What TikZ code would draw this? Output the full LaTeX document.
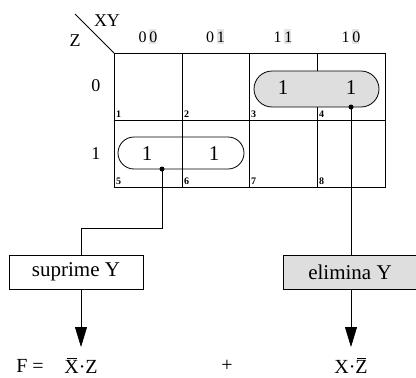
\documentclass[tikz,border=0pt]{standalone}
\usepackage{fontspec}
\setmainfont{Liberation Serif}
\usetikzlibrary{arrows.meta}
\newcommand{\ovbar}[1]{\leavevmode\setbox0\hbox{#1}\rlap{\hspace{0.15\wd0}\rule[1.12\ht0]{0.7\wd0}{0.06em}}#1}
\tikzset{
  grid/.style={line width=0.8pt},
  pill/.style={draw, line width=0.8pt, rounded corners=#1, inner sep=0pt},
  hdr/.style={font=\fontsize{16}{16}\selectfont, inner sep=1pt},
  lbl/.style={font=\fontsize{18}{18}\selectfont, inner sep=1pt},
  one/.style={font=\fontsize{21}{21}\selectfont, inner sep=0pt},
  cellno/.style={font=\bfseries\fontsize{10}{10}\selectfont, inner sep=0pt, anchor=south west},
  opbox/.style={draw, line width=0.8pt, font=\fontsize{21}{21}\selectfont, inner sep=0pt, minimum height=34pt},
  formula/.style={font=\fontsize{20}{20}\selectfont, inner sep=0pt},
  conn/.style={line width=0.8pt},
  arr/.style={line width=0.8pt, -{Triangle[length=20pt,width=12pt]}},
  dot/.style={circle, fill=black, inner sep=0pt, minimum size=5pt}
}
\begin{document}
\begin{tikzpicture}[x=1pt,y=-1pt]
\useasboundingbox (0,0) rectangle (416,378);
% header
\draw[grid] (75,14) -- (114,53);
\node[lbl] (xy) at (107,21) {XY};
\node[lbl] (z) at (75,41) {Z};
\foreach \x/\t/\n in {148/0\,0/h1,215.5/0\,1/h2,283/1\,1/h3,351/1\,0/h4}{
  \fill[black!10] (\x+1,29) rectangle (\x+8,44);
  \node[hdr] (\n) at (\x,37) {\t};
}
\node[lbl] (r0) at (96,86) {0};
\node[lbl] (r1) at (96,154) {1};
% grid
\draw[grid] (114,53) rectangle (385,187);
\draw[grid] (114,120) -- (385,120);
\foreach \x in {182,249,317} \draw[grid] (\x,53) -- (\x,187);
% cell numbers
\foreach \x/\k in {114/1,182/2,249/3,317/4}{
  \node[cellno] (c\k) at (\x+2,118) {\k};
}
\foreach \x/\k in {114/5,182/6,249/7,317/8}{
  \node[cellno] (c\k) at (\x+2,185) {\k};
}
% pills
\node[pill=18pt, fill=black!13, minimum width=125pt, minimum height=36pt] (ptop) at (316.5,89) {};
\node[pill=16pt, minimum width=126pt, minimum height=32pt] (pbot) at (181,153) {};
\node[one] (o3) at (283,88) {1};
\node[one] (o4) at (351,88) {1};
\node[one] (o5) at (147,154) {1};
\node[one] (o6) at (214,154) {1};
\node[dot] (dtop) at (351,107) {};
\node[dot] (dbot) at (162,169) {};
% boxes
\node[opbox, minimum width=134pt] (sup) at (76,272) {suprime Y};
\node[opbox, fill=black!13, minimum width=134pt] (eli) at (350,272) {elimina Y};
% formula
\node[formula] (fe) at (30,366) {F =};
\node[formula] (t1) at (81,366) {\ovbar{X}\textperiodcentered Z};
\node[formula] (plus) at (227,366) {+};
\node[formula] (t2) at (351,366) {X\textperiodcentered\ovbar{Z}};
% connectors
\coordinate (k1) at (162,228);
\coordinate (k2) at (81,228);
\draw[conn] (dbot.center) -- (k1) -- (k2) -- (k2 |- sup.north);
\draw[conn] (dtop.center) -- (dtop |- eli.north);
\draw[arr] (sup.south -| k2) -- (k2 |- 0,347);
\draw[arr] (eli.south -| dtop) -- (dtop |- 0,347);
\end{tikzpicture}
\end{document}
